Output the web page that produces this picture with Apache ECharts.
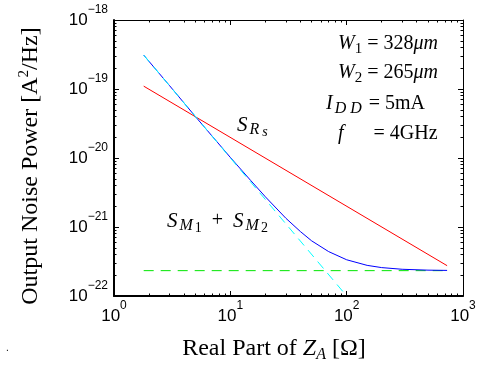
<!DOCTYPE html>
<html><head><meta charset="utf-8">
<script src="https://cdn.jsdelivr.net/npm/echarts@6/dist/echarts.min.js"></script>
<style>html,body{margin:0;padding:0;background:#fff}#c{width:479px;height:365px}</style>
</head><body><div id="c"></div>
<script>
// data
const rsX = [1.8, 730];
const rsY = [1.1e-19, 2.75e-22];
const m12X = [1.8, 100];
const m12Y = [3.1e-19, 1.0e-22];
const floorX = [1.8, 730];
const floorY = [2.33e-22, 2.33e-22];
const totX = [1.8, 3, 5, 7, 10, 15, 20, 30, 40, 50, 70, 100, 150, 200, 300, 500, 730];
const totY = [3.1e-19, 1.12e-19, 4.0e-20, 2.06e-20, 1.02e-20, 4.7e-21, 2.74e-21, 1.34e-21, 8.6e-22, 6.3e-22, 4.4e-22, 3.35e-22, 2.78e-22, 2.58e-22, 2.44e-22, 2.37e-22, 2.35e-22];
// tick labels (decade exponents)
const xDecades = [0, 1, 2, 3];
const yDecades = [-22, -21, -20, -19, -18];
const minorSteps = [2, 3, 4, 5, 6, 7, 8, 9];

const zip = (a, b) => a.map((v, i) => [v, b[i]]);
const minorOf = (dec) => {
  const out = [];
  for (let i = 0; i < dec.length - 1; i++) minorSteps.forEach(k => out.push(dec[i] + Math.log10(k)));
  return out;
};
const sans = "'Liberation Sans', Arial, sans-serif";
const serif = "'Liberation Serif', 'DejaVu Serif', serif";
const fmt = v => {
  const e = Math.round(v);
  return '{b|10}{s|' + (e < 0 ? '\u2212' + (-e) : e) + '}';
};
const labRich = {
  b: { fontSize: 17, fontFamily: sans, color: '#000' },
  s: { fontSize: 12, fontFamily: sans, color: '#000', padding: [0, 0, 20, 0] }
};
const tickAxis = (o) => ({
  type: 'value', gridIndex: 0, min: o.min, max: o.max, position: o.position,
  axisLine: { show: true, onZero: false, lineStyle: { color: o.lineColor || 'rgba(0,0,0,0)', width: o.lineWidth || 1 } },
  axisTick: { show: true, inside: true, length: o.len, customValues: o.ticks, lineStyle: { color: '#000', width: 1 } },
  axisLabel: o.labels ? { show: true, customValues: o.labels, formatter: fmt, rich: labRich, margin: o.margin, color: '#000', showMinLabel: true, showMaxLabel: true, hideOverlap: false } : { show: false },
  splitLine: { show: false }
});
function annRich() {
  return {
    i: { fontFamily: serif, fontStyle: 'italic', fontSize: 20, color: '#000' },
    ib: { fontFamily: serif, fontStyle: 'italic', fontSize: 21, color: '#000' },
    r: { fontFamily: serif, fontSize: 20, color: '#000' },
    req: { fontFamily: serif, fontSize: 20, color: '#000', padding: [0, 0, 0, 7] },
    plus: { fontFamily: serif, fontSize: 20, color: '#000', padding: [0, 10, 0, 10] },
    sub: { fontFamily: serif, fontStyle: 'italic', fontSize: 15, color: '#000', padding: [10, 0, 0, 1] },
    subw: { fontFamily: serif, fontStyle: 'italic', fontSize: 16, color: '#000', padding: [10, 0, 0, 2] },
    subr: { fontFamily: serif, fontSize: 15, color: '#000', padding: [10, 0, 0, 0] },
    ss: { fontFamily: serif, fontStyle: 'italic', fontSize: 14, color: '#000', padding: [15, 0, 0, 3] },
    ssr: { fontFamily: serif, fontSize: 14, color: '#000', padding: [14, 0, 0, 2] }
  };
}
const ann = (x, y, text) => ({ type: 'text', x: x, y: y, z: 100,
  style: { text: text, rich: annRich(), align: 'left', verticalAlign: 'middle' } });

const chart = echarts.init(document.getElementById('c'), null, { renderer: 'canvas' });
chart.setOption({
  animation: false,
  backgroundColor: '#fff',
  grid: { left: 114, right: 16, top: 20, bottom: 69, outerBoundsMode: 'none', containLabel: false, show: false },
  xAxis: [
    { type: 'log', logBase: 10, min: 1, max: 1000, show: false },
    tickAxis({ min: 0, max: 3, position: 'bottom', lineColor: '#000', lineWidth: 2, len: 5, ticks: xDecades, labels: xDecades, margin: 4 }),
    tickAxis({ min: 0, max: 3, position: 'bottom', len: 2.5, ticks: minorOf(xDecades) }),
    tickAxis({ min: 0, max: 3, position: 'top', lineColor: '#000', lineWidth: 1, len: 5, ticks: xDecades }),
    tickAxis({ min: 0, max: 3, position: 'top', len: 2.5, ticks: minorOf(xDecades) })
  ],
  yAxis: [
    { type: 'log', logBase: 10, min: 1e-22, max: 1e-18, show: false },
    tickAxis({ min: -22, max: -18, position: 'left', lineColor: '#000', lineWidth: 2, len: 5, ticks: yDecades, labels: yDecades, margin: 6 }),
    tickAxis({ min: -22, max: -18, position: 'left', len: 2.5, ticks: minorOf(yDecades) }),
    tickAxis({ min: -22, max: -18, position: 'right', lineColor: '#000', lineWidth: 1, len: 5, ticks: yDecades }),
    tickAxis({ min: -22, max: -18, position: 'right', len: 2.5, ticks: minorOf(yDecades) })
  ],
  series: [
    { type: 'line', name: 'S_Rs', data: zip(rsX, rsY), showSymbol: false, symbol: 'none',
      lineStyle: { color: '#ff0000', width: 1 }, z: 3 },
    { type: 'line', name: 'total', data: zip(totX, totY), showSymbol: false, symbol: 'none',
      lineStyle: { color: '#0000ff', width: 1 }, z: 3 },
    { type: 'line', name: 'S_M', data: zip(m12X, m12Y), showSymbol: false, symbol: 'none',
      lineStyle: { color: '#00ffff', width: 1, type: [9, 6] }, z: 4 },
    { type: 'line', name: 'floor', data: zip(floorX, floorY), showSymbol: false, symbol: 'none',
      lineStyle: { color: '#00e600', width: 1, type: [10, 7] }, z: 2 }
  ],
  graphic: [
    ann(338, 44, '{i|W}{subr|1}{r| = 328}{i|\u03BCm}'),
    ann(338, 73, '{i|W}{subr|2}{r| = 265}{i|\u03BCm}'),
    ann(326, 104, '{i|I}{subw|D D}{req|= 5mA}'),
    ann(338, 134, '{i|f}{r|      = 4GHz}'),
    ann(237, 125, '{ib|S}{subw|R}{ss|s}'),
    ann(167, 221, '{ib|S}{subw|M}{ssr|1}{plus|+}{ib|S}{subw|M}{ssr|2}'),
    { type: 'text', x: 274, y: 349, z: 100,
      style: { text: 'Real Part of {i|Z}{sub|A} [\u03A9]', font: "24px 'Liberation Serif', serif", fill: '#000', align: 'center', verticalAlign: 'middle',
        rich: { i: { fontFamily: serif, fontStyle: 'italic', fontSize: 24, color: '#000' },
                sub: { fontFamily: serif, fontStyle: 'italic', fontSize: 16, color: '#000', padding: [12, 0, 0, 0] } } } },
    { type: 'text', x: 31, y: 166, rotation: Math.PI / 2, z: 100,
      style: { text: 'Output Noise Power [A{sup|2}/Hz]', font: "24px 'Liberation Serif', serif", fill: '#000', align: 'center', verticalAlign: 'middle',
        rich: { sup: { fontFamily: serif, fontSize: 15, color: '#000', padding: [0, 0, 14, 0] } } } },
    { type: 'text', x: 6, y: 343, style: { text: '.', fontSize: 10, fill: '#000' } }
  ]
});
</script></body></html>
